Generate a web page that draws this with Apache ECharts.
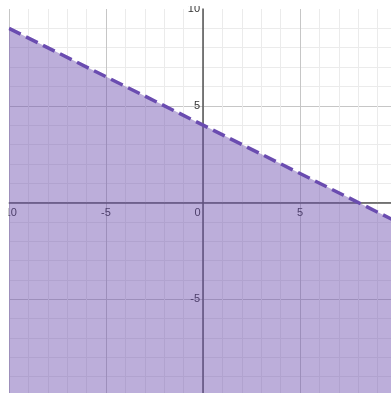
<!DOCTYPE html>
<html style="height: 100%">
<head>
	<meta charset="utf-8">
	<title>Inequality</title>
	<script src="https://cdn.jsdelivr.net/npm/echarts@6/dist/echarts.min.js"></script>
</head>
<body style="height: 100%; margin: 0; background: #fff">
	<div id="main" style="width: 391px; height: 393px"></div>
	<script type="text/javascript">
		// boundary line y = -0.5x + 4, read at the two ends of the window
		var lineX = [-10, 10];
		var lineY = [9, -1];
		var xRange = [-10, 10];
		var yRange = [-10, 10];

		var pts = [];
		for (var i = 0; i < lineX.length; i++) pts.push([lineX[i], lineY[i]]);

		var W = 391, H = 393;
		var gl = 9, gr = -6, gt = 9, gb = -3;
		// pixel of the origin inside the grid, used to shift both axes onto zero
		var zeroX = gl + (0 - xRange[0]) / (xRange[1] - xRange[0]) * (W - gl - gr);
		var zeroY = gt + (yRange[1] - 0) / (yRange[1] - yRange[0]) * (H - gt - gb);

		var myChart = echarts.init(document.getElementById('main'));
		var lbl = { color: '#333', fontSize: 11, fontFamily: 'Liberation Sans' };

		var option = {
			animation: false,
			grid: { left: gl, right: gr, top: gt, bottom: gb, containLabel: false, outerBoundsMode: 'none' },
			xAxis: {
				type: 'value', min: xRange[0], max: xRange[1], interval: 5,
				position: 'bottom', offset: -(H - gb - zeroY),
				axisLine: { onZero: false, lineStyle: { color: '#555', width: 1.5 } },
				axisTick: { show: false },
				axisLabel: {
					color: lbl.color, fontSize: lbl.fontSize, fontFamily: lbl.fontFamily,
					margin: 5, showMaxLabel: false,
					formatter: function (v) { return v === 0 ? '{z|0}' : String(v); },
					rich: { z: { color: lbl.color, fontSize: lbl.fontSize, fontFamily: lbl.fontFamily, padding: [0, 11, 0, 0] } }
				},
				splitLine: { lineStyle: { color: '#c6c6c6' } },
				minorTick: { show: false, splitNumber: 5 },
				minorSplitLine: { show: true, lineStyle: { color: '#ebebeb' } }
			},
			yAxis: {
				type: 'value', min: yRange[0], max: yRange[1], interval: 5,
				position: 'left', offset: -(zeroX - gl),
				axisLine: { onZero: false, lineStyle: { color: '#555', width: 1.5 } },
				axisTick: { show: false },
				axisLabel: {
					color: lbl.color, fontSize: lbl.fontSize, fontFamily: lbl.fontFamily,
					margin: 3, showMinLabel: false,
					formatter: function (v) { return v === 0 ? '' : String(v); }
				},
				splitLine: { showMaxLine: false, lineStyle: { color: '#c6c6c6' } },
				minorTick: { show: false, splitNumber: 5 },
				minorSplitLine: { show: true, lineStyle: { color: '#ebebeb' } }
			},
			graphic: [
				{ type: 'rect', z: 100, shape: { x: 0, y: 0, width: 8.5, height: H }, style: { fill: '#fff' } },
				{ type: 'rect', z: 100, shape: { x: 0, y: 0, width: W, height: 6 }, style: { fill: '#fff' } }
			],
			series: [{
				type: 'line',
				data: pts,
				symbol: 'none',
				clip: true,
				lineStyle: { color: '#6a4cb0', width: 3.5, type: [13, 6] },
				areaStyle: { color: '#6a4cae', opacity: 0.45, origin: 'start' }
			}]
		};
		myChart.setOption(option);
	</script>
</body>
</html>
